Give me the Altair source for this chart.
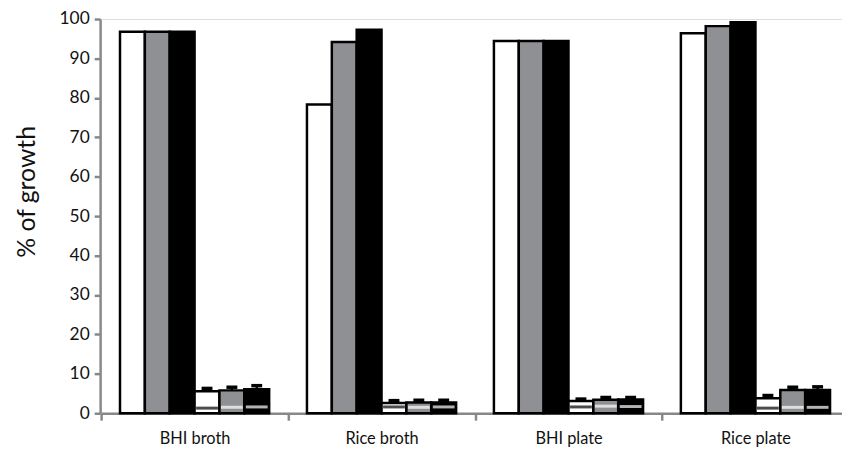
import altair as alt
import pandas as pd

categories = ["BHI broth", "Rice broth", "BHI plate", "Rice plate"]
series = ["s1", "s2", "s3", "s4", "s5", "s6"]
fill_colors = ["#ffffff", "#8f9094", "#000000", "#ffffff", "#8f9094", "#000000"]

# tall bars (white, grey, black)
s1 = [96.8, 78.3, 94.4, 96.4]
s2 = [96.8, 94.2, 94.4, 98.2]
s3 = [96.8, 97.3, 94.4, 99.2]
# short bars (white, grey, black)
s4 = [5.6, 2.6, 3.1, 3.8]
s5 = [5.8, 2.7, 3.4, 5.9]
s6 = [6.1, 2.7, 3.5, 5.9]
# upper error values of short bars
s4_err = [6.3, 3.2, 3.6, 4.5]
s5_err = [6.6, 3.3, 4.0, 6.6]
s6_err = [7.0, 3.3, 4.0, 6.7]
# inner stripe level of short bars
s4_stripe = [1.3, 1.6, 1.6, 1.3]
s5_stripe = [1.5, 1.5, 1.8, 1.5]
s6_stripe = [1.6, 1.6, 1.7, 1.5]
stripe_colors = {"s4": "#000000", "s5": "#ffffff", "s6": "#ffffff"}
y_ticks = list(range(0, 101, 10))

rows = []
for s, vals in zip(series, [s1, s2, s3, s4, s5, s6]):
    for c, v in zip(categories, vals):
        rows.append({"category": c, "series": s, "value": v})
df = pd.DataFrame(rows)

erows = []
for s, vals, errs, stripes in zip(["s4", "s5", "s6"], [s4, s5, s6],
                                  [s4_err, s5_err, s6_err],
                                  [s4_stripe, s5_stripe, s6_stripe]):
    for c, v, e, st in zip(categories, vals, errs, stripes):
        erows.append({"category": c, "series": s, "value": v, "cap": e,
                      "stripe": st, "stripe_color": stripe_colors[s]})
edf = pd.DataFrame(erows)

FONT = "Lato"
TITLE = "% of growth"

x_enc = alt.X("category:N", sort=categories,
              scale=alt.Scale(paddingInner=0, paddingOuter=0, range=[1, 756]),
              axis=alt.Axis(title=None, labelAngle=0, tickBand="extent",
                            labelFontSize=16.5, labelPadding=11, tickSize=7,
                            tickWidth=2.5, domainWidth=2.5, labelFont=FONT,
                            labelColor="#111111"))
xo_enc = alt.XOffset("series:N", sort=series,
                     scale=alt.Scale(paddingInner=0, paddingOuter=0.76))
y_axis = alt.Axis(values=y_ticks, grid=False, tickSize=6,
                  tickWidth=2.5, domainWidth=2.5, labelFontSize=17.5,
                  labelPadding=5, labelFont=FONT, labelColor="#111111",
                  labelOverlap=False,
                  titleFont=FONT, titleFontSize=25, titleFontWeight="normal",
                  titlePadding=20, titleColor="#111111", titleY=174)
y_scale = alt.Scale(domain=[0, 100], nice=False, zero=True)

bars = alt.Chart(df).mark_bar(stroke="black", strokeWidth=2.5).encode(
    x=x_enc,
    xOffset=xo_enc,
    y=alt.Y("value:Q", scale=y_scale, axis=y_axis, title=TITLE),
    fill=alt.Fill("series:N", sort=series,
                  scale=alt.Scale(domain=series, range=fill_colors), legend=None),
)

stripes = alt.Chart(edf).mark_tick(size=22, thickness=3).encode(
    x=x_enc,
    xOffset=xo_enc,
    y=alt.Y("stripe:Q", scale=y_scale, axis=y_axis, title=TITLE),
    color=alt.Color("stripe_color:N", scale=None),
)

err_line = alt.Chart(edf).mark_rule(color="black", strokeWidth=2.5).encode(
    x=x_enc,
    xOffset=xo_enc,
    y=alt.Y("value:Q", scale=y_scale, axis=y_axis, title=TITLE),
    y2="cap:Q",
)

caps = alt.Chart(edf).mark_tick(size=11, thickness=3.5, color="black",
                                opacity=1).encode(
    x=x_enc,
    xOffset=xo_enc,
    y=alt.Y("cap:Q", scale=y_scale, axis=y_axis, title=TITLE),
)

chart = alt.layer(bars, stripes, err_line, caps).properties(
    width=749, height=398,
    autosize=alt.AutoSizeParams(type="none"),
    padding={"left": 93, "top": 9, "right": 0, "bottom": 38},
).configure_view(stroke=None).configure_axis(
    domainColor="black", tickColor="black"
).configure_tick(opacity=1).configure(background="white")

chart.save("out.html", embed_options={"renderer": "svg", "actions": False})
